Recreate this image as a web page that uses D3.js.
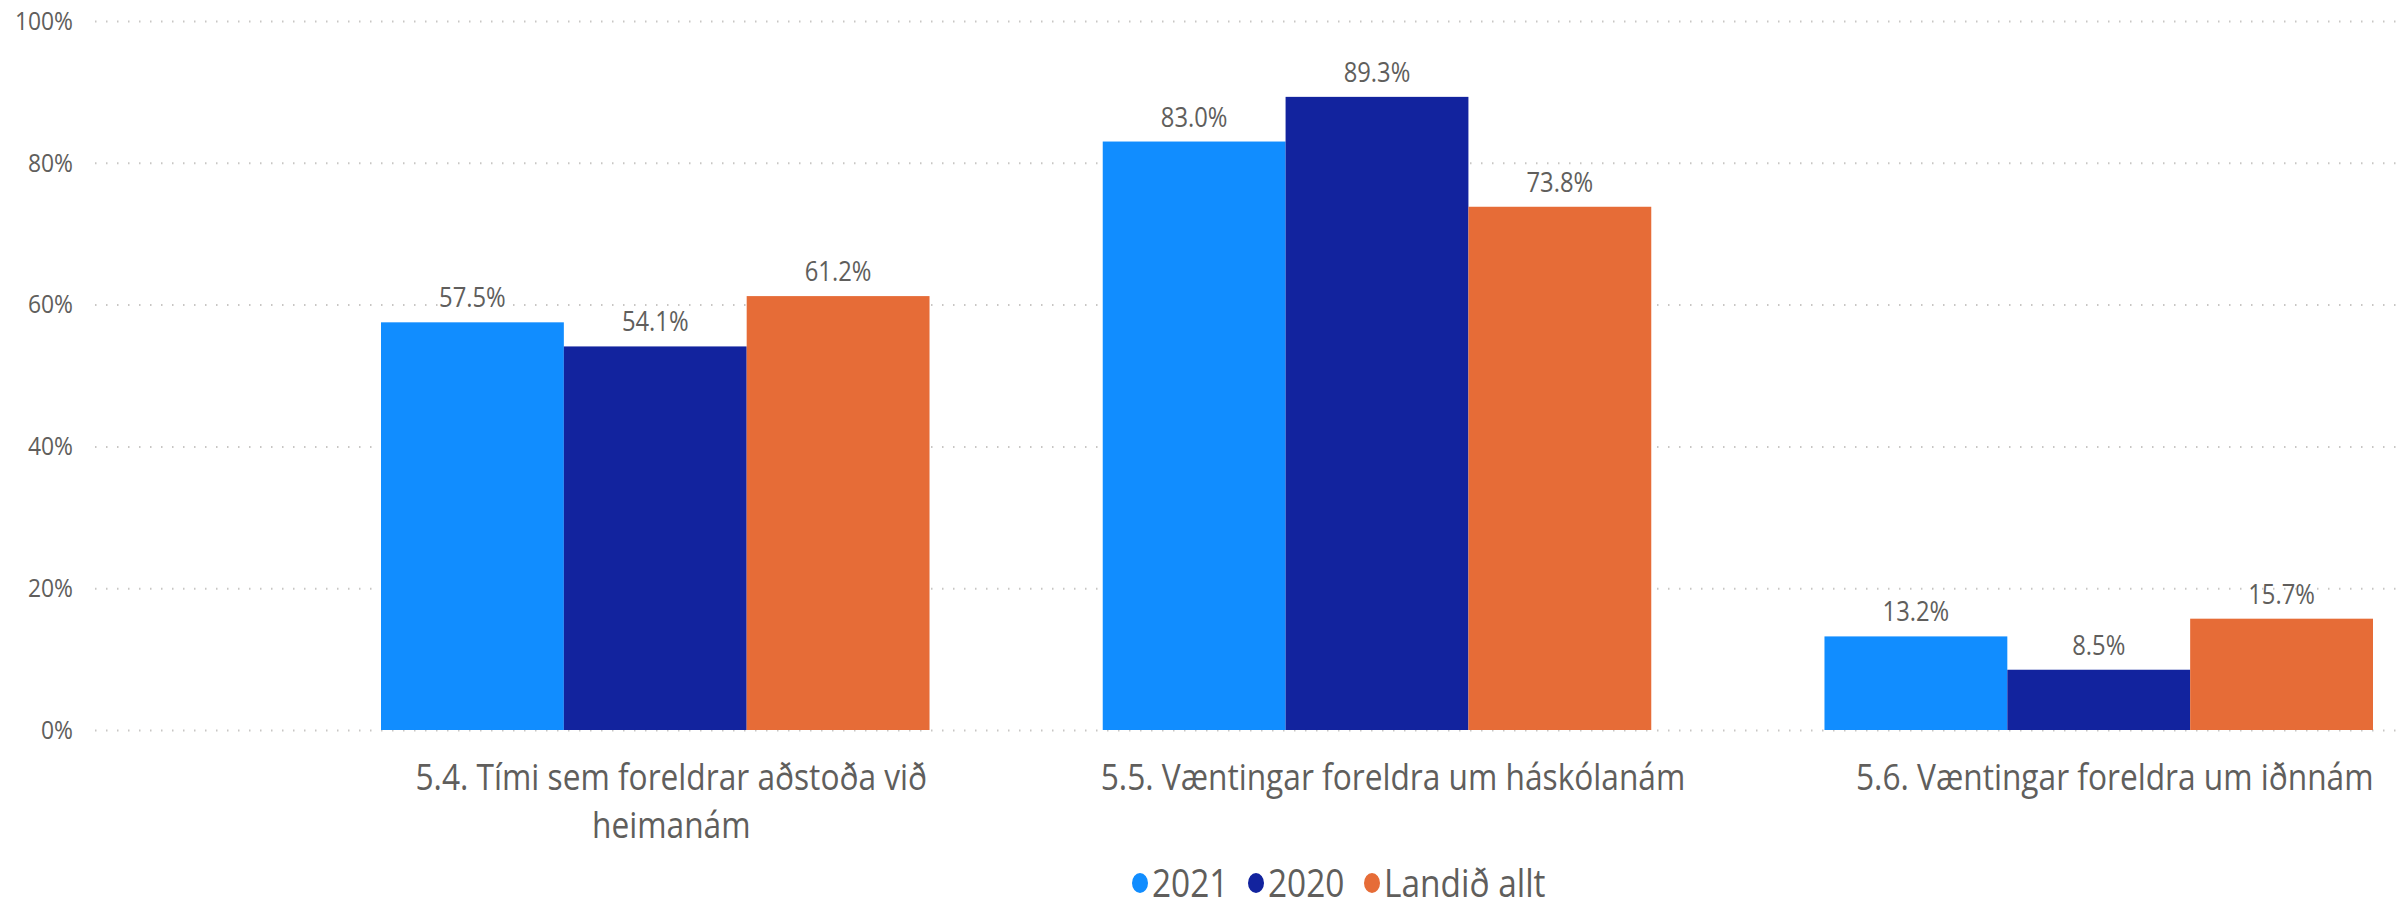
<!DOCTYPE html>
<html>
<head>
<meta charset="utf-8">
<script src="https://cdn.jsdelivr.net/npm/d3@7"></script>
<style>
  body { margin: 0; background: #fff; }
  text { font-family: "Open Sans", "Noto Sans", sans-serif; fill: #605E5C; }
</style>
</head>
<body>
<div id="viz"></div>
<script>
var categories = ["5.4. Tími sem foreldrar aðstoða við heimanám",
                  "5.5. Væntingar foreldra um háskólanám",
                  "5.6. Væntingar foreldra um iðnnám"];
var seriesNames = ["2021", "2020", "Landið allt"];
var values2021 = [57.5, 83.0, 13.2];
var values2020 = [54.1, 89.3, 8.5];
var valuesLandid = [61.2, 73.8, 15.7];
var yTicks = [0, 20, 40, 60, 80, 100];

var width = 2399,
    height = 899,
    sx = 0.88;   // text in the picture is narrow
var colors = ["#118DFF", "#12239E", "#E66C37"];
var seriesValues = [values2021, values2020, valuesLandid];

var y = d3.scaleLinear().domain([0, 100]).range([730, 21]);
var x0 = d3.scaleBand().domain(categories).range([381, 2373])
    .paddingInner(0.24).paddingOuter(0);
var x1 = d3.scaleBand().domain(seriesNames).range([0, x0.bandwidth()]);
var color = d3.scaleOrdinal().domain(seriesNames).range(colors);

var svg = d3.select('#viz').append('svg')
    .attr('width', width)
    .attr('height', height);

// y axis + dotted gridlines
var yAxis = svg.append('g')
    .attr('transform', 'translate(95,0)')
    .call(d3.axisLeft(y).tickValues(yTicks)
        .tickSize(-(width - 95))
        .tickFormat(function(d) { return d + '%'; }));
yAxis.select('.domain').remove();
yAxis.selectAll('line')
    .attr('stroke', '#C8C6C4')
    .attr('stroke-width', 2)
    .attr('stroke-dasharray', '1.5 9.5');
yAxis.selectAll('text')
    .attr('x', -22 / sx)
    .attr('transform', 'scale(' + sx + ',1)')
    .style('font-size', '26px')
    .style('fill', '#605E5C');

// bars
var rows = categories.map(function(c, i) {
  return seriesNames.map(function(s, j) {
    return {cat: c, series: s, value: seriesValues[j][i]};
  });
});

var groups = svg.selectAll('g.grp').data(rows)
  .enter().append('g')
    .attr('class', 'grp')
    .attr('transform', function(d) {
      return 'translate(' + x0(d[0].cat) + ',0)';
    });

groups.selectAll('rect').data(function(d) { return d; })
  .enter().append('rect')
    .attr('x', function(d) { return x1(d.series); })
    .attr('width', x1.bandwidth())
    .attr('y', function(d) { return y(d.value); })
    .attr('height', function(d) { return y(0) - y(d.value); })
    .style('fill', function(d) { return color(d.series); });

groups.selectAll('text.lbl').data(function(d) { return d; })
  .enter().append('text')
    .attr('class', 'lbl')
    .attr('text-anchor', 'middle')
    .attr('transform', function(d) {
      return 'translate(' + (x1(d.series) + x1.bandwidth() / 2) + ',' +
        (y(d.value) - 15) + ') scale(' + sx + ',1)';
    })
    .style('font-size', '27px')
    .text(function(d) { return d.value.toFixed(1) + '%'; });

// x axis labels
var xAxis = svg.append('g')
    .attr('transform', 'translate(16,0)')
    .call(d3.axisBottom(x0).tickSize(0));
xAxis.select('.domain').remove();
xAxis.selectAll('text').remove();

var maxW = 640;
xAxis.selectAll('.tick').each(function(cat) {
  var t = d3.select(this).append('text')
      .attr('text-anchor', 'middle')
      .attr('transform', 'translate(0,790) scale(' + sx + ',1)')
      .style('font-size', '36px')
      .style('fill', '#605E5C');
  var words = cat.split(' '), line = [];
  var tspan = t.append('tspan').attr('x', 0).attr('dy', 0);
  words.forEach(function(w) {
    line.push(w);
    tspan.text(line.join(' '));
    if (tspan.node().getComputedTextLength() * sx > maxW && line.length > 1) {
      line.pop();
      tspan.text(line.join(' '));
      line = [w];
      tspan = t.append('tspan').attr('x', 0).attr('dy', 48).text(w);
    }
  });
});

// legend
var legendX = [1140, 1256, 1372];
var legend = svg.append('g').selectAll('g').data(seriesNames)
  .enter().append('g')
    .attr('transform', function(d, i) {
      return 'translate(' + legendX[i] + ',883)';
    });
legend.append('ellipse')
    .attr('rx', 8).attr('ry', 10)
    .style('fill', function(d) { return color(d); });
legend.append('text')
    .attr('transform', 'translate(12,14) scale(' + sx + ',1)')
    .style('font-size', '38px')
    .style('fill', '#605E5C')
    .text(function(d) { return d; });
</script>
</body>
</html>
